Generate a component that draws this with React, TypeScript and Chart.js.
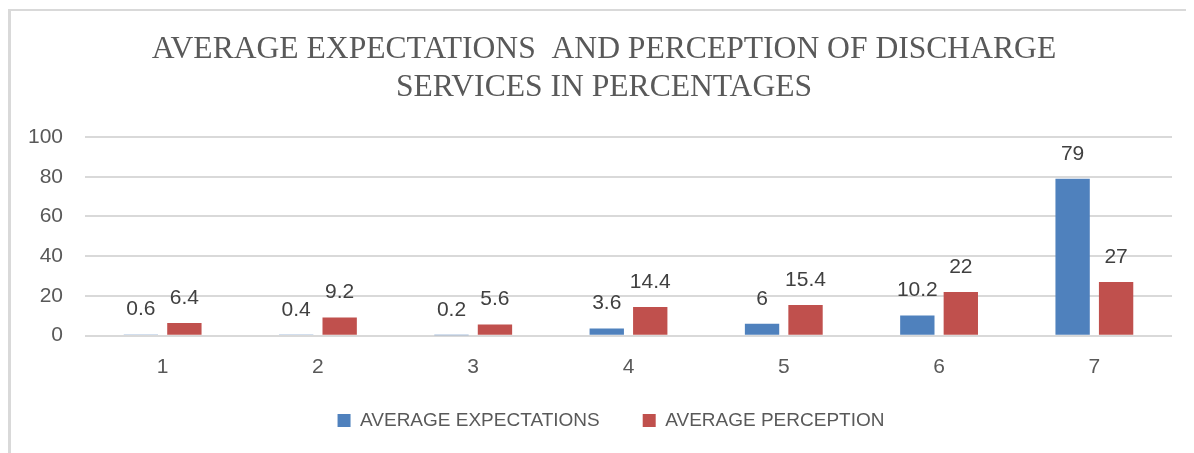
import React, { useEffect, useRef } from "react";
import { Chart, registerables } from "chart.js";

Chart.register(...registerables);

const categories = ["1", "2", "3", "4", "5", "6", "7"];
const expectations = [0.6, 0.4, 0.2, 3.6, 6, 10.2, 79];
const perception = [6.4, 9.2, 5.6, 14.4, 15.4, 22, 27];
const titleLines = [
  "AVERAGE EXPECTATIONS  AND PERCEPTION OF DISCHARGE",
  "SERVICES IN PERCENTAGES",
];
const seriesNames = ["AVERAGE EXPECTATIONS", "AVERAGE PERCEPTION"];
const yMin = 0;
const yMax = 100;
const yStep = 20;

const BLUE = "#4f81bd";
const RED = "#c0504d";
const GRID = "#d9d9d9";
const TEXT = "#595959";
const LABEL = "#404040";

const borderPlugin = {
  id: "outerBorder",
  beforeDraw(chart: any) {
    const ctx = chart.ctx;
    ctx.save();
    ctx.fillStyle = GRID;
    ctx.fillRect(0, 1, chart.width, 2);
    ctx.fillRect(0, 1, 3, chart.height);
    ctx.restore();
  },
};

const boxShift = {
  id: "boxShift",
  afterLayout(chart: any) {
    if (chart.legend) {
      chart.legend.left += 12;
      chart.legend.right += 12;
      chart.legend.top -= 13;
      chart.legend.bottom -= 13;
    }
    if (chart.titleBlock) {
      chart.titleBlock.left += 5;
      chart.titleBlock.right += 5;
    }
  },
};

const valueLabels = {
  id: "valueLabels",
  afterDatasetsDraw(chart: any) {
    const ctx = chart.ctx;
    ctx.save();
    ctx.font = "21px 'Liberation Sans', Arial, sans-serif";
    ctx.fillStyle = LABEL;
    ctx.textAlign = "center";
    ctx.textBaseline = "middle";
    chart.data.datasets.forEach((ds: any, di: number) => {
      const meta = chart.getDatasetMeta(di);
      meta.data.forEach((el: any, i: number) => {
        ctx.fillText(String(ds.data[i]), el.x, el.y - 25);
      });
    });
    ctx.restore();
  },
};

export default function App() {
  const ref = useRef<HTMLCanvasElement>(null);
  useEffect(() => {
    document.documentElement.style.overflow = "hidden";
    if (!ref.current) return;
    const chart = new Chart(ref.current, {
      type: "bar",
      data: {
        labels: categories,
        datasets: [
          {
            label: seriesNames[0],
            data: expectations,
            backgroundColor: BLUE,
            categoryPercentage: 0.56,
            barPercentage: 0.79,
          },
          {
            label: seriesNames[1],
            data: perception,
            backgroundColor: RED,
            categoryPercentage: 0.56,
            barPercentage: 0.79,
          },
        ],
      },
      options: {
        responsive: false,
        animation: false,
        layout: { padding: { left: 18, right: 22, top: 0, bottom: 0 } },
        plugins: {
          title: {
            display: true,
            text: titleLines,
            color: TEXT,
            font: { family: "'Liberation Serif', 'Times New Roman', serif", size: 31.6, weight: "normal", lineHeight: 38 / 31.6 },
            padding: { top: 23, bottom: 30 },
          },
          legend: {
            position: "bottom",
            labels: {
              color: TEXT,
              boxWidth: 13,
              boxHeight: 13,
              padding: 43,
              font: { family: "'Liberation Sans', Arial, sans-serif", size: 19 },
            },
          },
          tooltip: { enabled: false },
        },
        scales: {
          x: {
            grid: { display: false, drawTicks: false },
            border: { display: false },
            ticks: {
              color: TEXT,
              padding: 19,
              font: { family: "'Liberation Sans', Arial, sans-serif", size: 21 },
            },
            afterFit(scale: any) {
              scale.height = 45.3;
            },
          },
          y: {
            min: yMin,
            max: yMax,
            grid: { color: GRID, lineWidth: 2, drawTicks: false },
            border: { display: false },
            ticks: {
              stepSize: yStep,
              color: TEXT,
              padding: 22,
              font: { family: "'Liberation Sans', Arial, sans-serif", size: 21 },
            },
            afterFit(scale: any) {
              scale.width = 59;
            },
          },
        },
      },
      plugins: [borderPlugin, boxShift, valueLabels],
    });
    return () => chart.destroy();
  }, []);
  return (
    <div style={{ width: 1186, height: 445 }}>
      <canvas ref={ref} width={1186} height={445} style={{ display: "block" }} />
    </div>
  );
}
